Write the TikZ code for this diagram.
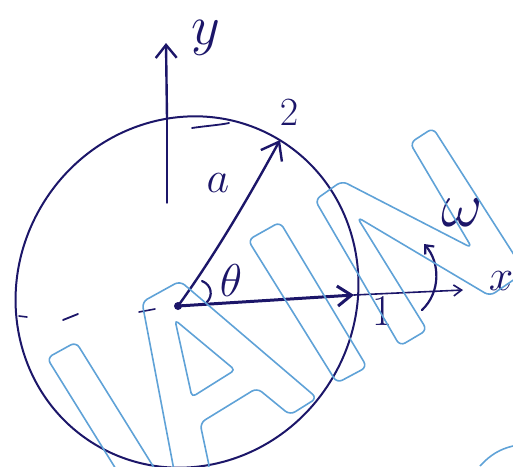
\RequirePackage{fix-cm}
\documentclass[tikz,border=0pt]{standalone}
\usetikzlibrary{arrows.meta}
\definecolor{ink}{RGB}{28,22,105}
\definecolor{wm}{RGB}{95,162,215}
\begin{document}
\begin{tikzpicture}[x=1pt,y=-1pt,
  inkline/.style={draw=ink, line cap=round, line join=round},
  lab/.style={text=ink, inner sep=0pt},
  wmline/.style={draw=wm, line width=1.6pt, rounded corners=6pt, line join=round}]
\useasboundingbox (0,0) rectangle (513,466);
% circle (hand drawn, slightly elliptic)
\coordinate (C) at (187,292);
\draw[inkline, line width=2pt, rotate around={59:(C)}] (C) ellipse [x radius=178, y radius=169];
\draw[inkline, line width=1.8pt] (192,128) .. controls (205,126) and (220,125) .. (229,123);
% points
\coordinate (O) at (178,306);
\coordinate (ytip) at (166,43);
\coordinate (ytop) at (167,118);
\coordinate (ybot) at (167,203);
\coordinate (atip) at (280,140);
\coordinate (xtip) at (354,295);
\coordinate (xend) at (463,290);
\coordinate (wb) at (422,310);
\coordinate (wt) at (424,244);
% y axis
\draw[inkline, line width=2.4pt, -{Straight Barb[length=13pt,width=21pt]}] (ytop) -- (ytip);
\draw[inkline, line width=1.4pt] (ytop) -- (ybot);
% vector a
\draw[inkline, line width=2.4pt, -{Straight Barb[length=16pt,width=24pt]}] (O) .. controls (215,255) and (250,195) .. (atip);
% x vector and axis
\draw[inkline, line width=3pt, -{Straight Barb[length=14pt,width=20pt]}] (O) -- (xtip);
\draw[inkline, line width=1.6pt, -{Straight Barb[length=8pt,width=11pt]}] (xtip) -- (xend);
\fill[ink] (O) circle (4pt);
% angle arc
\draw[inkline, line width=2.2pt] (202,281) .. controls (212,285) and (213,296) .. (207,302);
% omega rotation
\draw[inkline, line width=2.2pt, -{Straight Barb[length=7pt,width=12pt]}] (wb) .. controls (441,292) and (440,262) .. (wt);
% dashes on the left
\draw[inkline, line width=1.6pt] (19,316) -- (27,317);
\draw[inkline, line width=1.8pt] (63,320) -- (78,314);
\draw[inkline, line width=1.6pt] (139,312) -- (155,309);
% labels
\node[lab, font=\fontsize{56}{56}\selectfont] (ylab) at (206,38) {$y$};
\node[lab, font=\fontsize{40}{40}\selectfont] (two) at (289,113) {$2$};
\node[lab, font=\fontsize{44}{44}\selectfont] (alab) at (218,183) {$a$};
\node[lab, font=\fontsize{46}{46}\selectfont] (th) at (231,281) {$\theta$};
\node[lab, font=\fontsize{44}{44}\selectfont] (one) at (382,311) {$1$};
\node[lab, font=\fontsize{64}{64}\selectfont] (om) at (462,213) {$\omega$};
\node[lab, font=\fontsize{44}{44}\selectfont] (xlab) at (501,281) {$x$};
% watermark
\begin{scope}
\clip (0,0) rectangle (513,466);
\draw[wmline] (47,358) -- (76,342) -- (166,487) -- (137,503) -- cycle;
\draw[wmline] (177,486) -- (142,302) -- (180,281) -- (317,398) -- (290,415) -- (257,388) -- (200,423) -- (210,470) -- cycle;
\draw[wmline, rounded corners=4pt] (175,320) -- (235,370) -- (192,397) -- cycle;
\draw[wmline] (248,240) -- (280,222) -- (367,367) -- (337,383) -- cycle;
\draw[wmline] (315,200) -- (342,181) -- (472,248) -- (410,143) -- (433,128) -- (525,272) -- (490,296) -- (357,217) -- (427,330) -- (400,346) -- cycle;
\draw[draw=wm, line width=1.6pt] (480,466) .. controls (490,455) and (500,449) .. (513,446);
\end{scope}
\end{tikzpicture}
\end{document}
